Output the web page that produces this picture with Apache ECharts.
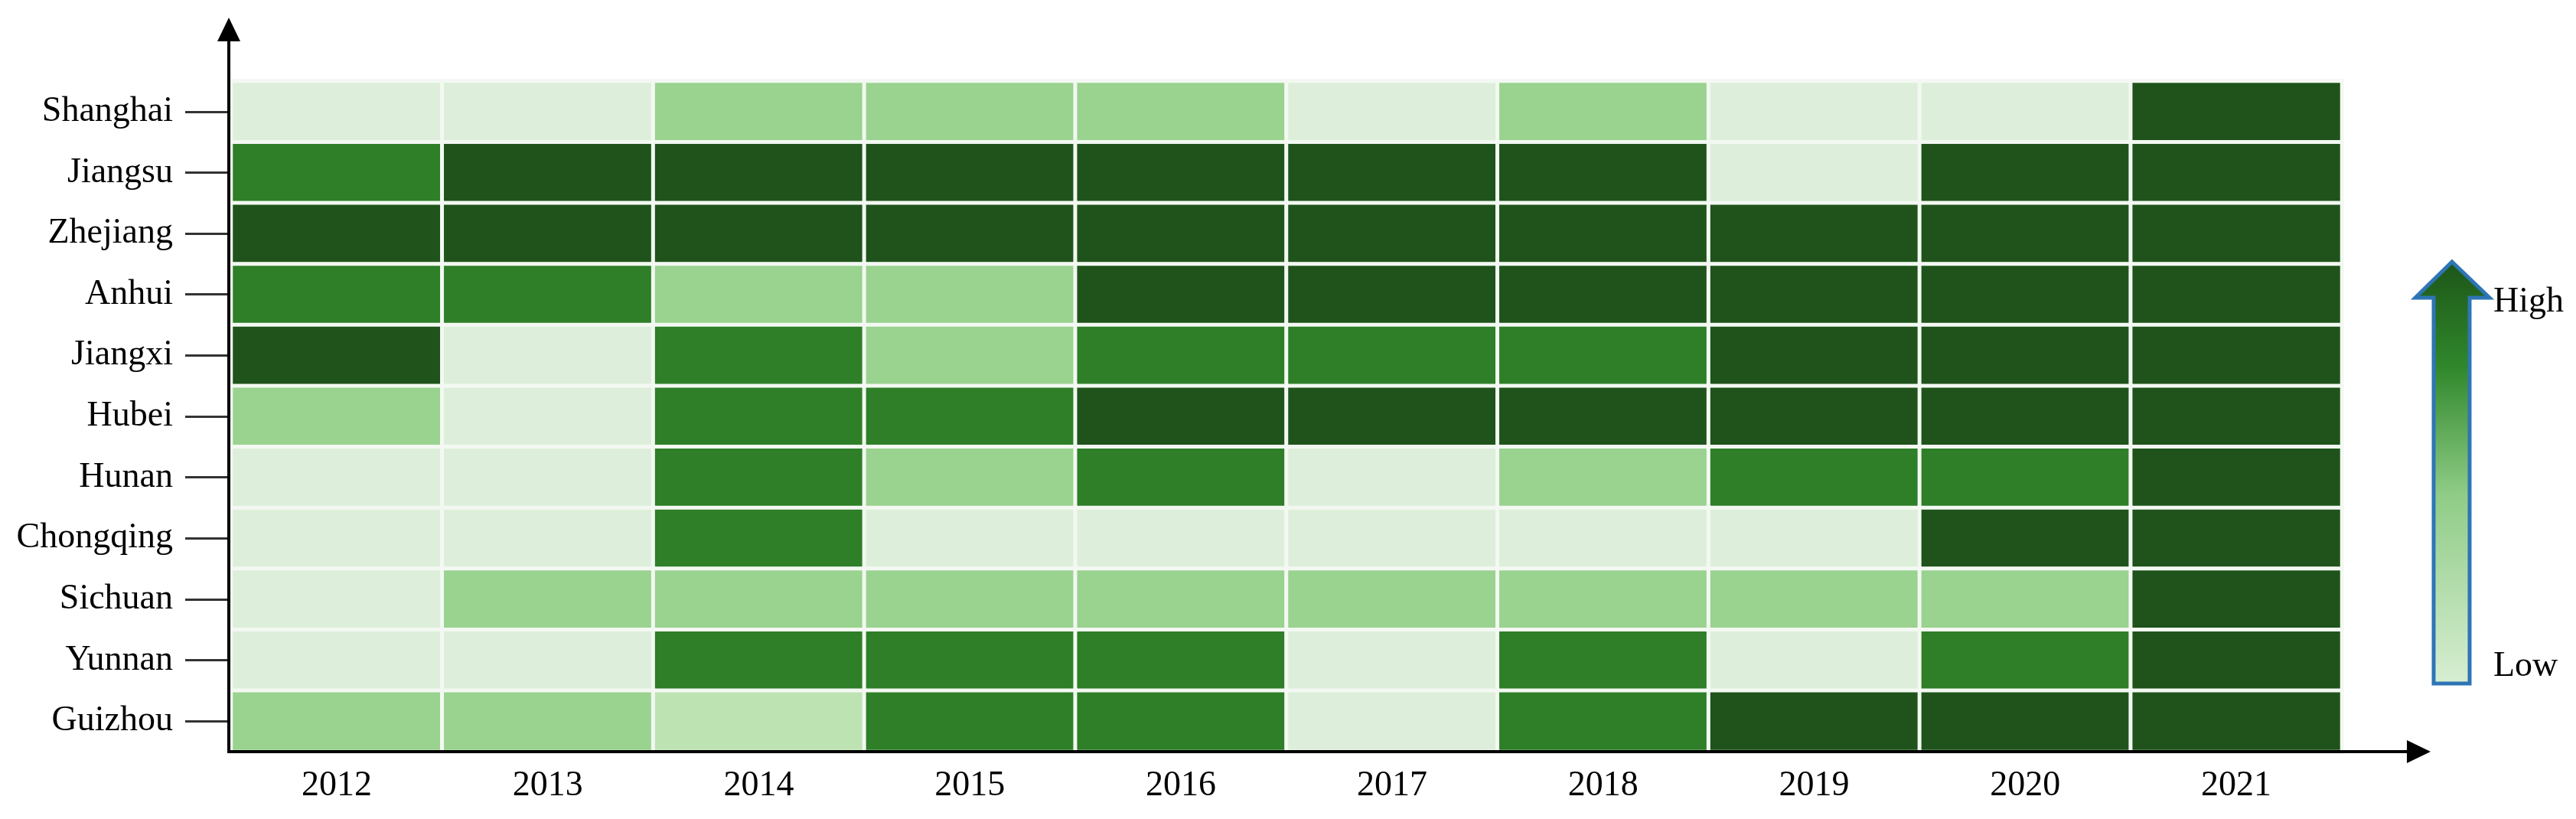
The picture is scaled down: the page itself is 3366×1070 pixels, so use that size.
<!DOCTYPE html>
<html>
<head>
<meta charset="utf-8">
<script src="https://cdn.jsdelivr.net/npm/echarts@6/dist/echarts.min.js"></script>
<style>
  html, body { margin: 0; padding: 0; background: #ffffff; }
  #chart { width: 3366px; height: 1070px; }
</style>
</head>
<body>
<div id="chart"></div>
<script>
// ---- Data (levels: 1 very low ... 5 high) ----
const years = ['2012', '2013', '2014', '2015', '2016', '2017', '2018', '2019', '2020', '2021'];
const provinces = ['Shanghai', 'Jiangsu', 'Zhejiang', 'Anhui', 'Jiangxi', 'Hubei', 'Hunan', 'Chongqing', 'Sichuan', 'Yunnan', 'Guizhou'];

const Shanghai  = [1, 1, 3, 3, 3, 1, 3, 1, 1, 5];
const Jiangsu   = [4, 5, 5, 5, 5, 5, 5, 1, 5, 5];
const Zhejiang  = [5, 5, 5, 5, 5, 5, 5, 5, 5, 5];
const Anhui     = [4, 4, 3, 3, 5, 5, 5, 5, 5, 5];
const Jiangxi   = [5, 1, 4, 3, 4, 4, 4, 5, 5, 5];
const Hubei     = [3, 1, 4, 4, 5, 5, 5, 5, 5, 5];
const Hunan     = [1, 1, 4, 3, 4, 1, 3, 4, 4, 5];
const Chongqing = [1, 1, 4, 1, 1, 1, 1, 1, 5, 5];
const Sichuan   = [1, 3, 3, 3, 3, 3, 3, 3, 3, 5];
const Yunnan    = [1, 1, 4, 4, 4, 1, 4, 1, 4, 5];
const Guizhou   = [3, 3, 2, 4, 4, 1, 4, 5, 5, 5];

const legendLabels = ['High', 'Low'];

// ---- Build heatmap table ----
const rows = [Shanghai, Jiangsu, Zhejiang, Anhui, Jiangxi, Hubei, Hunan, Chongqing, Sichuan, Yunnan, Guizhou];
const heatData = [];
rows.forEach((row, yi) => {
  row.forEach((v, xi) => heatData.push([xi, yi, v]));
});

// ---- Layout ----
const W = 3366, H = 1070;
const GRID_LEFT = 302, GRID_RIGHT = 306, GRID_TOP = 106, GRID_BOTTOM = 88;
const AXIS_X = GRID_LEFT - 3;          // y-axis line x
const AXIS_Y = H - GRID_BOTTOM;        // x-axis line y
const FONT = '"Liberation Serif", "Times New Roman", serif';

const chart = echarts.init(document.getElementById('chart'), null, { renderer: 'canvas' });

const arrowGrad = new echarts.graphic.LinearGradient(0, 0, 0, 1, [
  { offset: 0.0, color: '#1d5518' },
  { offset: 0.25, color: '#2f872b' },
  { offset: 0.55, color: '#8fcc86' },
  { offset: 1.0, color: '#d8eed3' }
]);

const option = {
  backgroundColor: '#ffffff',
  animation: false,
  grid: { left: GRID_LEFT, right: GRID_RIGHT, top: GRID_TOP, bottom: GRID_BOTTOM, containLabel: false },
  xAxis: {
    type: 'category',
    data: years,
    axisLine: { show: false },
    axisTick: { show: false },
    splitArea: { show: false },
    axisLabel: { fontFamily: FONT, fontSize: 46, color: '#000', margin: 22 }
  },
  yAxis: {
    type: 'category',
    data: provinces,
    inverse: true,
    axisLine: { show: false },
    axisTick: { show: true, alignWithLabel: true, length: 60, lineStyle: { color: '#333', width: 3 } },
    axisLabel: { fontFamily: FONT, fontSize: 46, color: '#000', margin: 76 }
  },
  visualMap: {
    type: 'piecewise',
    show: false,
    dimension: 2,
    pieces: [
      { value: 1, color: '#ddefda' },
      { value: 2, color: '#bde3b3' },
      { value: 3, color: '#9ad28f' },
      { value: 4, color: '#2e7f28' },
      { value: 5, color: '#1f531b' }
    ]
  },
  series: [{
    type: 'heatmap',
    data: heatData,
    itemStyle: { borderColor: '#f3f9f2', borderWidth: 5 },
    emphasis: { disabled: true }
  }],
  graphic: [
    // y axis line + arrow
    { type: 'line', shape: { x1: AXIS_X, y1: AXIS_Y + 2, x2: AXIS_X, y2: 50 }, style: { stroke: '#000', lineWidth: 4 }, z: 100 },
    { type: 'polygon', shape: { points: [[AXIS_X, 23], [AXIS_X - 15, 54], [AXIS_X + 15, 54]] }, style: { fill: '#000' }, z: 100 },
    // x axis line + arrow
    { type: 'line', shape: { x1: AXIS_X - 2, y1: AXIS_Y, x2: 3150, y2: AXIS_Y }, style: { stroke: '#000', lineWidth: 4 }, z: 100 },
    { type: 'polygon', shape: { points: [[3176, AXIS_Y], [3145, AXIS_Y - 15], [3145, AXIS_Y + 15]] }, style: { fill: '#000' }, z: 100 },
    // legend arrow
    {
      type: 'polygon',
      shape: { points: [[3204, 342], [3253, 389], [3227, 389], [3227, 893], [3180, 893], [3180, 389], [3156, 389]] },
      style: { fill: arrowGrad, stroke: '#2e75b6', lineWidth: 5, lineJoin: 'miter' },
      z: 100
    },
    { type: 'text', x: 3258, y: 395, style: { text: legendLabels[0], font: '46px ' + FONT, fill: '#000', textVerticalAlign: 'middle', verticalAlign: 'middle' }, z: 100 },
    { type: 'text', x: 3258, y: 871, style: { text: legendLabels[1], font: '46px ' + FONT, fill: '#000', textVerticalAlign: 'middle', verticalAlign: 'middle' }, z: 100 }
  ]
};

chart.setOption(option);
</script>
</body>
</html>
